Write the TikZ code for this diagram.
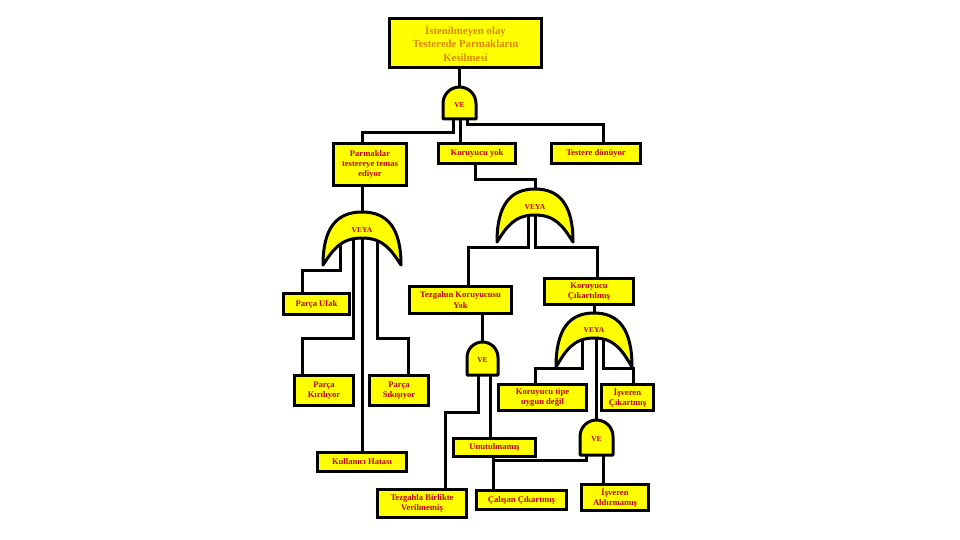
\documentclass[tikz,border=0pt]{standalone}
\usepackage{fontspec}
\setmainfont{Liberation Serif}
\usetikzlibrary{calc}
\pgfdeclarelayer{bg}
\pgfsetlayers{bg,main}
\definecolor{boxfill}{RGB}{255,255,0}
\definecolor{txtred}{RGB}{190,0,0}
\definecolor{txtorange}{RGB}{222,135,0}
\tikzset{
  fbox/.style={draw=black, line width=3.5pt, fill=boxfill, text=txtred,
    font=\fontsize{8.6}{10.2}\selectfont\bfseries, align=center, inner sep=0pt},
  gate/.style={draw=black, line width=3pt, fill=boxfill, line join=round},
  gatelabel/.style={text=txtred, font=\fontsize{7.5}{8}\selectfont\bfseries, inner sep=0pt},
  conn/.style={draw=black, line width=3pt, line join=miter},
}
\newcommand{\myvegate}[5]{% name, xl, xr, yt, yb
  \pgfmathsetmacro\myGR{(#3-#2)/2}
  \pgfmathsetmacro\myGC{(#2+#3)/2}
  \pgfmathsetmacro\myGY{#4+\myGR}
  \pgfmathsetmacro\myGK{0.552*\myGR}
  \path[gate] (#2,#5) -- (#2,\myGY) .. controls (#2,\myGY-\myGK) and (\myGC-\myGK,#4) .. (\myGC,#4)
     .. controls (\myGC+\myGK,#4) and (#3,\myGY-\myGK) .. (#3,\myGY) -- (#3,#5) -- cycle;
  \node[gatelabel] (#1) at (\myGC,{(#4+#5)/2+2}) {VE};
}
\newcommand{\myveyagate}[6]{% name, xl, xr, ytop, ytip, yinner
  \pgfmathsetmacro\myGC{(#2+#3)/2}
  \pgfmathsetmacro\myHW{(#3-#2)/2}
  \pgfmathsetmacro\myH{#5-#4}
  \pgfmathsetmacro\myIH{#5-#6}
  \path[gate] (#2,#5) .. controls (#2,#5-0.7*\myH) and (\myGC-0.65*\myHW,#4) .. (\myGC,#4)
     .. controls (\myGC+0.65*\myHW,#4) and (#3,#5-0.7*\myH) .. (#3,#5)
     .. controls (#3-0.25*\myHW,#6+0.45*\myIH) and (\myGC+0.55*\myHW,#6) .. (\myGC,#6)
     .. controls (\myGC-0.55*\myHW,#6) and (#2+0.25*\myHW,#6+0.45*\myIH) .. (#2,#5) -- cycle;
  \node[gatelabel] (#1) at (\myGC,{#4+0.68*(#6-#4)}) {VEYA};
}
\begin{document}
\begin{tikzpicture}[x=1pt,y=-1pt]
\useasboundingbox (0,0) rectangle (960,540);

% boxes
\node[fbox, text=txtorange, font=\fontsize{10.8}{13.5}\selectfont\bfseries,
      minimum width=152pt, minimum height=49pt] (top) at (465.5,43)
      {İstenilmeyen olay\\Testerede Parmakların\\Kesilmesi};
\node[fbox, minimum width=73pt, minimum height=42pt] (parm) at (370,164.5) {Parmaklar\\testereye temas\\ediyor};
\node[fbox, minimum width=77pt, minimum height=20pt] (koryok) at (477,153.5) {Koruyucu yok};
\node[fbox, minimum width=89pt, minimum height=20pt] (testere) at (596,153.5) {Testere dönüyor};
\node[fbox, minimum width=66pt, minimum height=21pt] (pufak) at (316.5,304) {Parça Ufak};
\node[fbox, minimum width=102pt, minimum height=27pt] (tezgahin) at (460.5,300) {Tezgahın Koruyucusu\\Yok};
\node[fbox, minimum width=89pt, minimum height=26pt] (korcik) at (589,291.5) {Koruyucu\\Çıkartılmış};
\node[fbox, minimum width=59pt, minimum height=30pt] (pkir) at (324,390.5) {Parça\\Kırılıyor};
\node[fbox, minimum width=59pt, minimum height=30pt] (psik) at (399,390.5) {Parça\\Sıkışıyor};
\node[fbox, minimum width=88pt, minimum height=26pt] (kortipe) at (542.5,397.5) {Koruyucu tipe\\uygun değil};
\node[fbox, minimum width=52pt, minimum height=26pt] (iscik) at (627.5,397.5) {İşveren\\Çıkartmış};
\node[fbox, minimum width=82pt, minimum height=18pt] (unut) at (494.5,447.5) {Unutulmamış};
\node[fbox, minimum width=89pt, minimum height=19pt] (kullanici) at (362,462) {Kullanıcı Hatası};
\node[fbox, minimum width=89pt, minimum height=28pt] (tezgahla) at (422,503.5) {Tezgahla Birlikte\\Verilmemiş};
\node[fbox, minimum width=90pt, minimum height=19pt] (calisan) at (521.5,500) {Çalışan Çıkartmış};
\node[fbox, minimum width=67pt, minimum height=26pt] (isald) at (615,497.5) {İşveren\\Aldırmamış};

% gates
\myvegate{gA}{443}{476}{87}{119}
\myveyagate{gB}{323}{401}{212}{265}{238}
\myveyagate{gC}{497}{573}{189}{242}{215}
\myvegate{gD}{467}{498}{342}{375}
\myveyagate{gE}{556}{632}{313}{367}{338}
\myvegate{gF}{580}{613}{420}{455}

% gate ports
\coordinate (gAi) at (459.5,87);
\coordinate (gAo1) at (453,119);
\coordinate (gAo2) at (460,119);
\coordinate (gAo3) at (467,119);
\coordinate (gBi) at (362,212);
\coordinate (gBo1) at (340,238);
\coordinate (gBo2) at (353,238);
\coordinate (gBo3) at (362,238);
\coordinate (gBo4) at (377,238);
\coordinate (gCi) at (535,189);
\coordinate (gCo1) at (528,215);
\coordinate (gCo2) at (535,215);
\coordinate (gDi) at (482.5,342);
\coordinate (gDo1) at (478,375);
\coordinate (gDo2) at (490,375);
\coordinate (gEi) at (594,313);
\coordinate (gEo1) at (582,338);
\coordinate (gEo2) at (596.5,338);
\coordinate (gEo3) at (603,338);
\coordinate (gFi) at (596.5,420);
\coordinate (gFo1) at (586,455);
\coordinate (gFo2) at (603,455);
\coordinate (j1) at (493,460);

\begin{pgfonlayer}{bg}
\fill[white] (0,0) rectangle (960,540);
\draw[conn] (top.south -| gAi) -- (gAi);
\draw[conn] (gAo1) -- ++(0,14) -| (parm.north -| gBi);
\draw[conn] (gAo2) -- (koryok.north -| gAo2);
\draw[conn] (gAo3) -- ++(0,6) -| ([xshift=7pt]testere.north);
\draw[conn] (parm.south -| gBi) -- (gBi);
\draw[conn] ([xshift=-2pt]koryok.south) -- ++(0,14) -| (gCi);
\draw[conn] (gBo1) -- ++(0,32) -| ([xshift=-14.5pt]pufak.north);
\draw[conn] (gBo2) -- ++(0,100) -| ([xshift=-22pt]pkir.north);
\draw[conn] (gBo3) -- (kullanici.north -| gBo3);
\draw[conn] (gBo4) -- ++(0,100) -| ([xshift=9pt]psik.north);
\draw[conn] (gCo1) -- ++(0,32) -| ([xshift=7.5pt]tezgahin.north);
\draw[conn] (gCo2) -- ++(0,32) -| ([xshift=8pt]korcik.north);
\draw[conn] (tezgahin.south -| gDi) -- (gDi);
\draw[conn] (gDo1) -- ++(0,37) -| ([xshift=23pt]tezgahla.north);
\draw[conn] (gDo2) -- (unut.north -| gDo2);
\draw[conn] (korcik.south -| gEi) -- (gEi);
\draw[conn] (gEo1) -- ++(0,30) -| ([xshift=-7.5pt]kortipe.north);
\draw[conn] (gEo2) -- (gFi);
\draw[conn] (gEo3) -- ++(0,30) -| ([xshift=5.5pt]iscik.north);
\draw[conn] (unut.south -| j1) -- (calisan.north -| j1);
\draw[conn] (gFo1) |- (j1);
\draw[conn] (gFo2) -- (isald.north -| gFo2);
\end{pgfonlayer}
\end{tikzpicture}
\end{document}
